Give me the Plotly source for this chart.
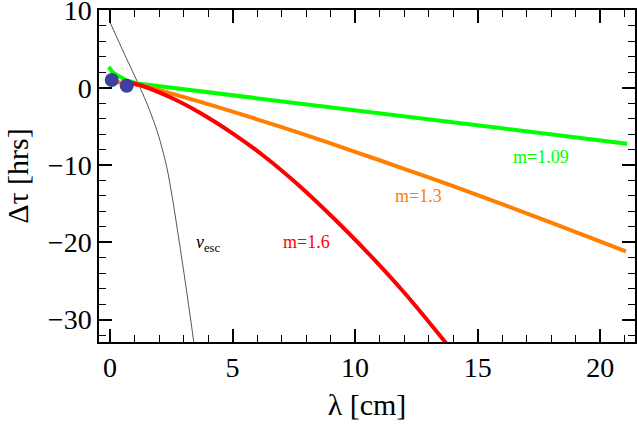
import plotly.graph_objects as go

# curves (lambda in cm, delta tau in hrs)
lam_green = [-0.05, 0.1, 0.35, 0.7, 1.2, 21.1]
dt_green = [2.7, 2.0, 1.5, 0.9, 0.5, -7.25]

lam_orange = [0.3, 0.7, 1.2, 2.5, 4.0, 6.0, 8.0, 10.0, 12.0, 14.0, 16.0, 18.0, 21.05]
dt_orange = [0.7, 0.6, 0.35, -0.75, -2.13, -4.09, -6.15, -8.29, -10.49, -12.75, -15.07, -17.45, -21.17]

lam_red = [0.5, 1.2, 2.5, 3.7, 5.0, 6.3, 7.8, 9.0, 10.5, 12.0, 13.7, 14.0]
dt_red = [0.8, 0.35, -1.3, -3.3, -5.9, -8.9, -12.9, -16.5, -21.3, -26.5, -33.0, -34.2]

lam_vesc = [0.0, 0.61, 1.22, 1.6, 1.96, 2.31, 2.53, 2.76, 3.06, 3.33, 3.42]
dt_vesc = [8.45, 4.2, 0.05, -2.8, -6.0, -10.2, -14.0, -18.6, -24.9, -30.9, -33.0]

lam_dots = [0.07, 0.68]
dt_dots = [1.0, 0.25]

labels = ["m=1.09", "m=1.3", "m=1.6", "<i>v</i><sub>esc</sub>"]
label_x = [17.6, 12.6, 8.0, 4.0]
label_y = [-9.0, -14.0, -19.9, -20.1]
label_colors = ["rgb(0,255,0)", "rgb(255,128,0)", "rgb(255,0,0)", "black"]

serif = "Liberation Serif"

fig = go.Figure()

fig.add_trace(go.Scatter(x=lam_vesc, y=dt_vesc, mode="lines", line=dict(color="rgb(40,40,40)", width=0.8, shape="spline", smoothing=0.8)))
fig.add_trace(go.Scatter(x=lam_green, y=dt_green, mode="lines", line=dict(color="rgb(0,255,0)", width=4)))
fig.add_trace(go.Scatter(x=lam_orange, y=dt_orange, mode="lines", line=dict(color="rgb(255,128,0)", width=4, shape="spline", smoothing=0.8)))
fig.add_trace(go.Scatter(x=lam_red, y=dt_red, mode="lines", line=dict(color="rgb(255,0,0)", width=4, shape="spline", smoothing=0.8)))
fig.add_trace(go.Scatter(x=lam_dots, y=dt_dots, mode="markers", marker=dict(color="rgb(63,63,160)", size=14)))

for txt, lx, ly, c in zip(labels, label_x, label_y, label_colors):
    fig.add_annotation(x=lx, y=ly, text=txt, showarrow=False,
                       font=dict(family=serif, size=18, color=c))

axis_style = dict(showgrid=False, zeroline=False, showline=True, linecolor="black", linewidth=1.5,
                  mirror="allticks", ticks="inside", ticklen=13, tickwidth=1.5, tickcolor="black",
                  ticklabeloverflow="allow", automargin=False,
                  tickfont=dict(family=serif, size=28, color="black"))

fig.update_xaxes(range=[-0.45, 21.42], dtick=5, tick0=0,
                 minor=dict(dtick=1, ticks="inside", ticklen=7, tickwidth=1.2, tickcolor="black"),
                 title=dict(text="λ [cm]", font=dict(family=serif, size=30, color="black"), standoff=12),
                 **axis_style)
fig.update_yaxes(range=[-32.9, 10.05], dtick=10, tick0=0,
                 minor=dict(dtick=2, ticks="inside", ticklen=7, tickwidth=1.2, tickcolor="black"),
                 title=dict(text="Δτ [hrs]", font=dict(family=serif, size=30, color="black"), standoff=10),
                 **axis_style)

fig.update_layout(width=637, height=428, showlegend=False,
                  font=dict(family=serif, color="black"),
                  plot_bgcolor="white", paper_bgcolor="white",
                  margin=dict(l=99, r=2, t=10, b=86))

fig.write_html("out.html", config={"displayModeBar": False},
               post_script="document.body.style.margin='0px';")
